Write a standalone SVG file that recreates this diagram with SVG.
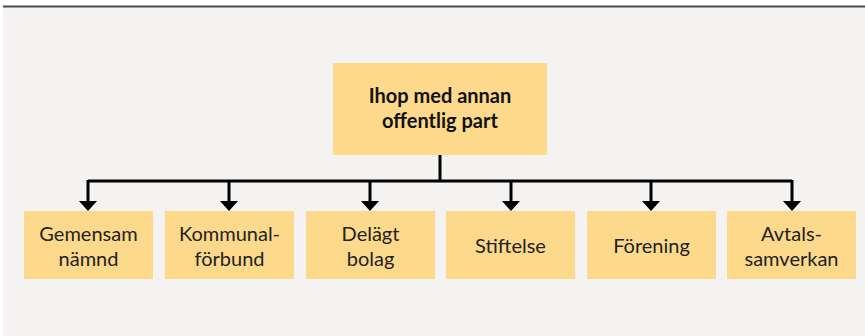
<svg xmlns="http://www.w3.org/2000/svg" width="865" height="336" viewBox="0 0 865 336">
<defs>
<style>
.box{fill:#fdd98b}
.t{font-family:Lato,"Open Sans","Liberation Sans",sans-serif;font-size:20px;fill:#222;text-anchor:middle}
.tb{font-weight:bold;fill:#111}
.ln{fill:none;stroke:#000;stroke-width:3}
</style>
</defs>
<rect x="3" y="7" width="862" height="329" fill="#f4f3f1"/>
<line x1="3" y1="6.5" x2="865" y2="6.5" stroke="#4a4a4a" stroke-width="2"/>
<g id="connectors">
<line class="ln" x1="440" y1="155" x2="440" y2="181"/>
<line class="ln" x1="88" y1="181" x2="792" y2="181"/>
<path d="M88,180 V202 M229,181 V202 M370,181 V202 M511,181 V202 M651,181 V202 M792,180 V202" class="ln"/>
<path d="M79,201 H97 L88,211 Z M220,201 H238 L229,211 Z M361,201 H379 L370,211 Z M502,201 H520 L511,211 Z M642,201 H660 L651,211 Z M783,201 H801 L792,211 Z" fill="#000"/>
</g>
<g id="top">
<rect class="box" x="333" y="63" width="214" height="92"/>
<text class="t tb" x="440" y="103">Ihop med annan</text>
<text class="t tb" x="440" y="128">offentlig part</text>
</g>
<g id="n1">
<rect class="box" x="24" y="211" width="129" height="68"/>
<text class="t" x="88.5" y="241">Gemensam</text>
<text class="t" x="88.5" y="266">nämnd</text>
</g>
<g id="n2">
<rect class="box" x="165" y="211" width="129" height="68"/>
<text class="t" x="229.5" y="241">Kommunal-</text>
<text class="t" x="229.5" y="266">förbund</text>
</g>
<g id="n3">
<rect class="box" x="306" y="211" width="129" height="68"/>
<text class="t" x="370.5" y="241">Delägt</text>
<text class="t" x="370.5" y="266">bolag</text>
</g>
<g id="n4">
<rect class="box" x="446" y="211" width="129" height="68"/>
<text class="t" x="510.5" y="253">Stiftelse</text>
</g>
<g id="n5">
<rect class="box" x="587" y="211" width="129" height="68"/>
<text class="t" x="651.5" y="253">Förening</text>
</g>
<g id="n6">
<rect class="box" x="727" y="211" width="129" height="68"/>
<text class="t" x="791.5" y="241">Avtals-</text>
<text class="t" x="791.5" y="266">samverkan</text>
</g>
</svg>
